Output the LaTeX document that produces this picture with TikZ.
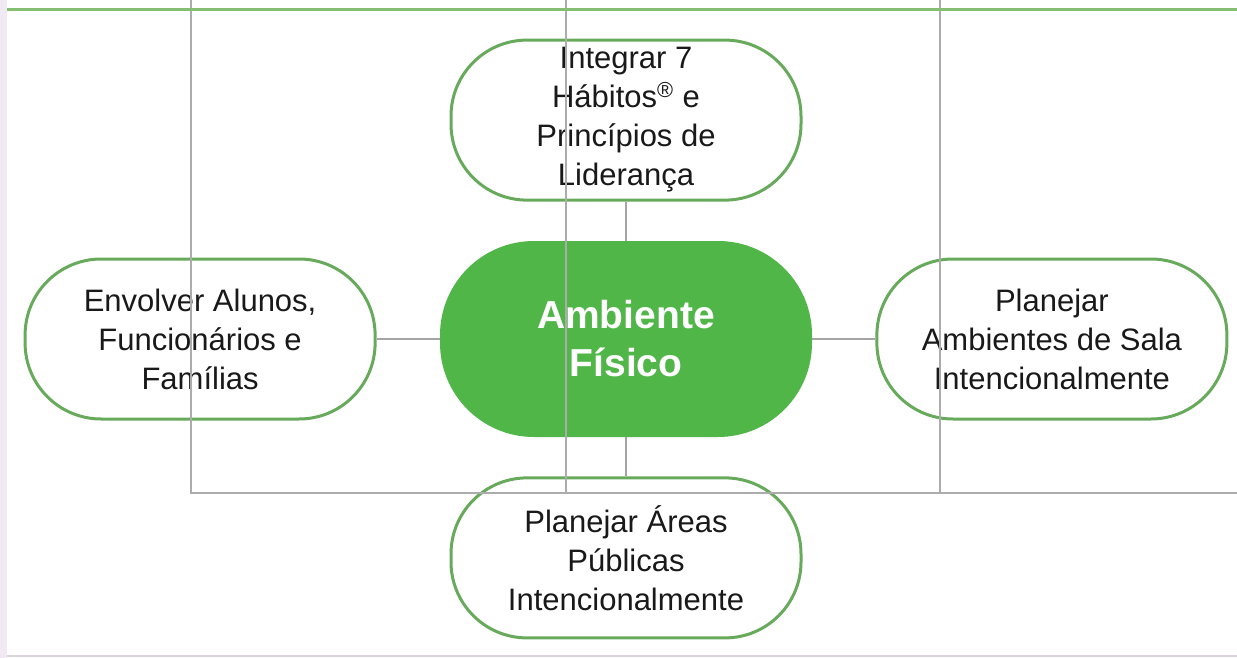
\documentclass[tikz,border=0pt]{standalone}
\usepackage{fontspec}
\setmainfont{Liberation Sans}
\usetikzlibrary{positioning}
\definecolor{leafgreen}{RGB}{80,182,72}
\definecolor{rimgreen}{RGB}{104,170,92}
\definecolor{topgreen}{RGB}{132,190,112}
\definecolor{framegray}{RGB}{172,172,172}
\definecolor{linkgray}{RGB}{165,165,165}
\definecolor{inkgray}{RGB}{25,25,25}
\definecolor{edgetint}{RGB}{240,232,242}

\begin{document}
\begin{tikzpicture}[
  x=0.5pt,
  y=-0.5pt,
  node distance=19.5pt and 31.5pt,
  pill/.style={
    draw=rimgreen,
    line width=1.5pt,
    fill=white,
    rounded corners=38pt,
    minimum width=175pt,
    minimum height=80pt,
    align=center,
    text=inkgray,
    font=\fontsize{15.5}{19.5}\selectfont
  },
  hub/.style={
    fill=leafgreen,
    rounded corners=47pt,
    minimum width=186pt,
    minimum height=98pt,
    align=center,
    text=white,
    font=\fontsize{19.5}{24}\selectfont\bfseries
  },
  link/.style={draw=linkgray, line width=0.8pt},
  frameline/.style={draw=framegray, line width=1pt}
]

\useasboundingbox (0,0) rectangle (1237,658);
\fill[white] (0,0) rectangle (1237,658);
\fill[edgetint] (0,0) rectangle (7,658);
\draw[edgetint!80!gray, line width=0.8pt] (7,656) -- (1237,656);

\node[hub] (hub) at (626,339) {Ambiente\\Físico};
\node[pill,above=of hub] (habits) {Integrar 7\\Hábitos\textsuperscript{®} e\\Princípios de\\Liderança};
\node[pill,below=of hub] (areas) {Planejar Áreas\\Públicas\\Intencionalmente};
\node[pill,left=of hub] (people) {Envolver Alunos,\\Funcionários e\\Famílias};
\node[pill,right=of hub] (rooms) {Planejar\\Ambientes de Sala\\Intencionalmente};

% Links to the hub
\draw[link] (habits) -- (hub);
\draw[link] (hub) -- (areas);
\draw[link] (people) -- (hub);
\draw[link] (hub) -- (rooms);

% Frame lines over the diagram
\draw[frameline] (191,0) -- (191,493) -- (1237,493);
\draw[frameline] (566,0) -- (566,493);
\draw[frameline] (940,0) -- (940,493);
\draw[topgreen, line width=1.5pt] (7,10) -- (1237,10);

\end{tikzpicture}
\end{document}
